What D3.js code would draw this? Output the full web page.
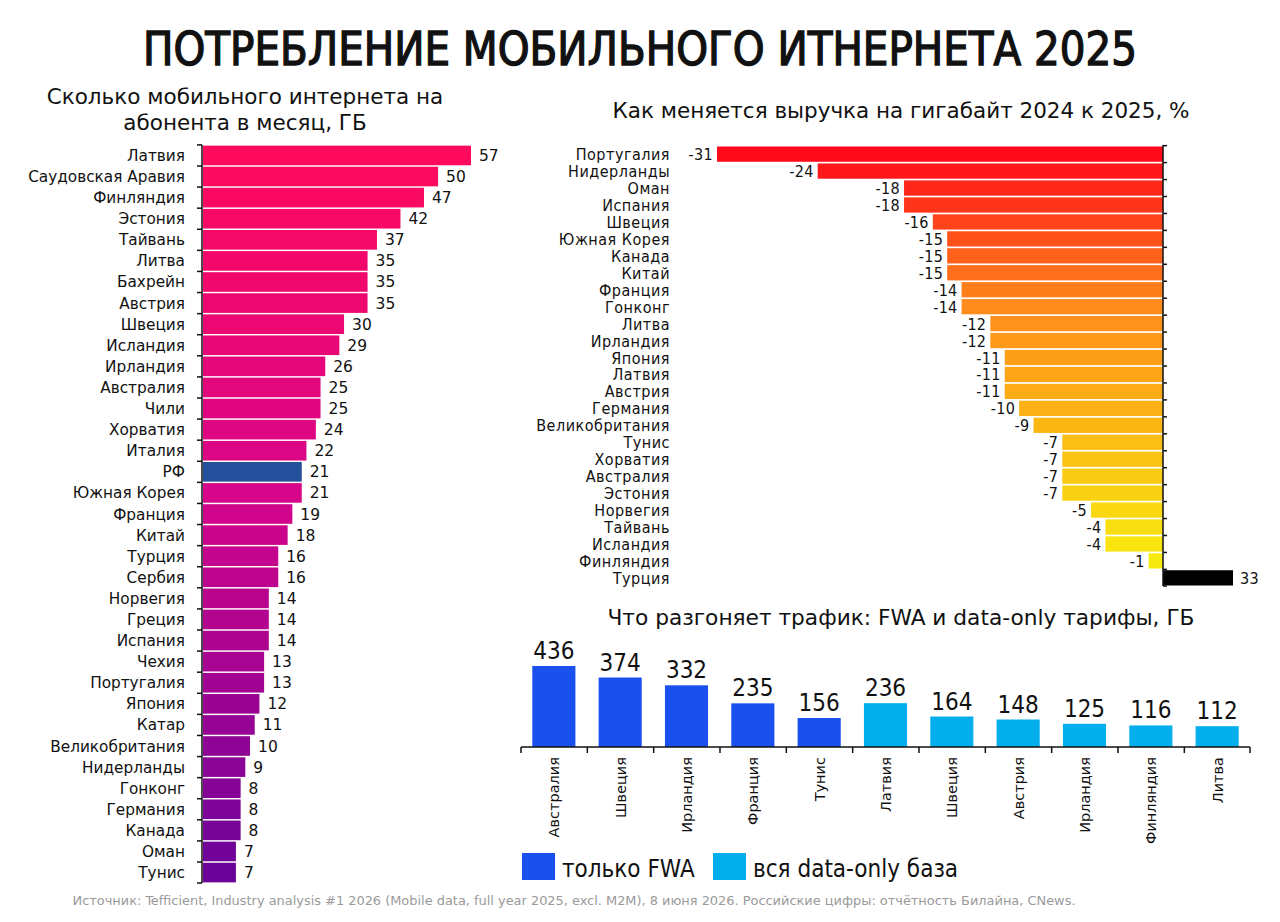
<!DOCTYPE html>
<html>
<head>
<meta charset="utf-8">
<script src="https://cdn.jsdelivr.net/npm/d3@7"></script>
<style>
  body { margin: 0; background: #fff; }
  svg { display: block; }
  .wide { font-family: "DejaVu Sans", Verdana, sans-serif; fill: #111; }
  .cond { font-family: "DejaVu Sans Condensed", "Liberation Sans Narrow", "Roboto", sans-serif; fill: #111; }
</style>
</head>
<body>
<script>
// left chart: GB per subscriber per month
var usageCountries = ['Латвия','Саудовская Аравия','Финляндия','Эстония','Тайвань','Литва','Бахрейн','Австрия','Швеция','Исландия','Ирландия','Австралия','Чили','Хорватия','Италия','РФ','Южная Корея','Франция','Китай','Турция','Сербия','Норвегия','Греция','Испания','Чехия','Португалия','Япония','Катар','Великобритания','Нидерланды','Гонконг','Германия','Канада','Оман','Тунис'];
var usageValues = [57,50,47,42,37,35,35,35,30,29,26,25,25,24,22,21,21,19,18,16,16,14,14,14,13,13,12,11,10,9,8,8,8,7,7];

// right chart: revenue per GB change, %
var revCountries = ['Португалия','Нидерланды','Оман','Испания','Швеция','Южная Корея','Канада','Китай','Франция','Гонконг','Литва','Ирландия','Япония','Латвия','Австрия','Германия','Великобритания','Тунис','Хорватия','Австралия','Эстония','Норвегия','Тайвань','Исландия','Финляндия','Турция'];
var revValues = [-31,-24,-18,-18,-16,-15,-15,-15,-14,-14,-12,-12,-11,-11,-11,-10,-9,-7,-7,-7,-7,-5,-4,-4,-1,33];

// bottom chart: FWA and data-only, GB
var fwaCountries = ['Австралия','Швеция','Ирландия','Франция','Тунис','Латвия','Швеция','Австрия','Ирландия','Финляндия','Литва'];
var fwaValues = [436,374,332,235,156,236,164,148,125,116,112];
var fwaGroups = ['fwa','fwa','fwa','fwa','fwa','data','data','data','data','data','data'];
var legendLabels = ['только FWA','вся data-only база'];

var W = 1280, H = 922;
var svg = d3.select('body').append('svg').attr('width', W).attr('height', H);

svg.append('text')
	.attr('class', 'cond')
	.attr('x', 640).attr('y', 65)
	.attr('text-anchor', 'middle')
	.attr('font-size', 46)
	.attr('stroke', '#111').attr('stroke-width', 1.3)
	.attr('textLength', 994)
	.attr('lengthAdjust', 'spacingAndGlyphs')
	.text('ПОТРЕБЛЕНИЕ МОБИЛЬНОГО ИТНЕРНЕТА 2025');

// ---------- left chart ----------
var lt = svg.append('g');
lt.append('text').attr('class', 'wide').attr('x', 245).attr('y', 104)
	.attr('text-anchor', 'middle').attr('font-size', 21.5)
	.text('Сколько мобильного интернета на');
lt.append('text').attr('class', 'wide').attr('x', 245).attr('y', 130)
	.attr('text-anchor', 'middle').attr('font-size', 21.5)
	.text('абонента в месяц, ГБ');

var x0 = 203;
var yL = d3.scaleBand().domain(usageCountries).range([145, 883]).paddingInner(0.07).paddingOuter(0.03);
var xL = d3.scaleLinear().domain([0, 57]).range([x0, x0 + 268]);
var colL = d3.scaleLinear().domain([0, 16, 34]).range(['#ff0a5c', '#d6058a', '#6c0399']).interpolate(d3.interpolateRgb);

lt.selectAll('rect').data(usageCountries).enter().append('rect')
	.attr('x', x0)
	.attr('y', function(d){ return yL(d); })
	.attr('width', function(d, i){ return xL(usageValues[i]) - x0; })
	.attr('height', yL.bandwidth())
	.attr('fill', function(d, i){ return d == 'РФ' ? '#244f9a' : colL(i); });

lt.selectAll('.val').data(usageCountries).enter().append('text')
	.attr('class', 'wide val')
	.attr('x', function(d, i){ return xL(usageValues[i]) + 8; })
	.attr('y', function(d){ return yL(d) + yL.bandwidth() / 2 + 5.5; })
	.attr('font-size', 15.5)
	.text(function(d, i){ return usageValues[i]; });

lt.selectAll('.lab').data(usageCountries).enter().append('text')
	.attr('class', 'wide lab')
	.attr('x', 185)
	.attr('y', function(d){ return yL(d) + yL.bandwidth() / 2 + 5.5; })
	.attr('text-anchor', 'end')
	.attr('font-size', 15.3)
	.text(function(d){ return d; });

lt.append('line').attr('x1', 202).attr('x2', 202).attr('y1', 145).attr('y2', 883)
	.attr('stroke', '#111').attr('stroke-width', 1.5);
var lTicks = usageCountries.map(function(d){ return yL(d) - yL.step() * yL.paddingInner() / 2; });
lTicks.push(883);
lt.selectAll('.tk').data(lTicks).enter().append('line')
	.attr('x1', 197).attr('x2', 202)
	.attr('y1', function(d){ return d; }).attr('y2', function(d){ return d; })
	.attr('stroke', '#111').attr('stroke-width', 1.5);

// ---------- right chart ----------
var rt = svg.append('g');
rt.append('text').attr('class', 'cond').attr('x', 901).attr('y', 118)
	.attr('text-anchor', 'middle').attr('font-size', 22)
	.attr('textLength', 577).attr('lengthAdjust', 'spacingAndGlyphs')
	.text('Как меняется выручка на гигабайт 2024 к 2025, %');

var yR = d3.scaleBand().domain(revCountries.map(function(d, i){ return i; })).range([146, 586]).paddingInner(0.1).paddingOuter(0.03);
var xR = d3.scaleLinear().domain([-31, 0, 33]).range([717, 1163, 1233]);
var colR = d3.scaleLinear().domain([0, 9, 24]).range(['#ff0a1a', '#ff8c1c', '#f7ea0e']).interpolate(d3.interpolateRgb);

rt.selectAll('rect').data(revValues).enter().append('rect')
	.attr('x', function(d){ return Math.min(xR(d), xR(0)); })
	.attr('y', function(d, i){ return yR(i); })
	.attr('width', function(d){ return Math.abs(xR(d) - xR(0)); })
	.attr('height', yR.bandwidth())
	.attr('fill', function(d, i){ return d > 0 ? '#000' : colR(i); });

rt.selectAll('.val').data(revValues).enter().append('text')
	.attr('class', 'cond val')
	.attr('x', function(d){ return d < 0 ? xR(d) - 4 : xR(d) + 7; })
	.attr('y', function(d, i){ return yR(i) + yR.bandwidth() / 2 + 6; })
	.attr('text-anchor', function(d){ return d < 0 ? 'end' : 'start'; })
	.attr('font-size', 16)
	.attr('letter-spacing', 0.3)
	.text(function(d){ return d; });

rt.selectAll('.lab').data(revCountries).enter().append('text')
	.attr('class', 'cond lab')
	.attr('x', 670)
	.attr('y', function(d, i){ return yR(i) + yR.bandwidth() / 2 + 6; })
	.attr('text-anchor', 'end')
	.attr('font-size', 16)
	.attr('letter-spacing', 0.5)
	.text(function(d){ return d; });

rt.append('line').attr('x1', xR(0)).attr('x2', xR(0)).attr('y1', 145).attr('y2', 586)
	.attr('stroke', '#111').attr('stroke-width', 1.5);
var rTicks = revCountries.map(function(d, i){ return yR(i) - yR.step() * yR.paddingInner() / 2; });
rTicks.push(586);
rt.selectAll('.tk').data(rTicks).enter().append('line')
	.attr('x1', xR(0)).attr('x2', xR(0) + 4)
	.attr('y1', function(d){ return d; }).attr('y2', function(d){ return d; })
	.attr('stroke', '#111').attr('stroke-width', 1.5);

// ---------- bottom chart ----------
var bt = svg.append('g');
bt.append('text').attr('class', 'cond').attr('x', 901).attr('y', 625)
	.attr('text-anchor', 'middle').attr('font-size', 22)
	.attr('textLength', 587).attr('lengthAdjust', 'spacingAndGlyphs')
	.text('Что разгоняет трафик: FWA и data-only тарифы, ГБ');

var groupColor = { fwa: '#1a50ee', data: '#03aeec' };
var xB = d3.scaleBand().domain(fwaCountries.map(function(d, i){ return i; })).range([521, 1250]).paddingInner(0.35).paddingOuter(0.17);
var yB = d3.scaleLinear().domain([0, 436]).range([747, 666]);

bt.selectAll('rect').data(fwaValues).enter().append('rect')
	.attr('x', function(d, i){ return xB(i); })
	.attr('y', function(d){ return yB(d); })
	.attr('width', xB.bandwidth())
	.attr('height', function(d){ return yB(0) - yB(d); })
	.attr('fill', function(d, i){ return groupColor[fwaGroups[i]]; });

bt.selectAll('.val').data(fwaValues).enter().append('text')
	.attr('class', 'cond val')
	.attr('x', function(d, i){ return xB(i) + xB.bandwidth() / 2; })
	.attr('y', function(d){ return yB(d) - 7; })
	.attr('text-anchor', 'middle')
	.attr('font-size', 24)
	.text(function(d){ return d; });

bt.selectAll('.lab').data(fwaCountries).enter().append('text')
	.attr('class', 'wide lab')
	.attr('transform', function(d, i){ return 'translate(' + (xB(i) + xB.bandwidth() / 2 + 5.5) + ',757) rotate(-90)'; })
	.attr('text-anchor', 'end')
	.attr('font-size', 14.5)
	.text(function(d){ return d; });

bt.append('line').attr('x1', 521).attr('x2', 1250).attr('y1', 747).attr('y2', 747)
	.attr('stroke', '#111').attr('stroke-width', 1.5);
var bTicks = fwaCountries.map(function(d, i){ return 521 + i * xB.step(); });
bTicks.push(1250);
bt.selectAll('.tk').data(bTicks).enter().append('line')
	.attr('x1', function(d){ return d; }).attr('x2', function(d){ return d; })
	.attr('y1', 747).attr('y2', 753)
	.attr('stroke', '#111').attr('stroke-width', 1.5);

// legend
var lg = bt.append('g');
var lgX = [522, 713];
lg.selectAll('rect').data(legendLabels).enter().append('rect')
	.attr('x', function(d, i){ return lgX[i]; })
	.attr('y', 853).attr('width', 33).attr('height', 27)
	.attr('fill', function(d, i){ return i == 0 ? groupColor.fwa : groupColor.data; });
lg.selectAll('text').data(legendLabels).enter().append('text')
	.attr('class', 'cond')
	.attr('x', function(d, i){ return lgX[i] + 40; })
	.attr('y', 877)
	.attr('font-size', 24)
	.text(function(d){ return d; });

svg.append('text').attr('class', 'cond')
	.attr('x', 574).attr('y', 905)
	.attr('text-anchor', 'middle')
	.attr('font-size', 13)
	.attr('textLength', 1003).attr('lengthAdjust', 'spacingAndGlyphs')
	.style('fill', '#9a9a9a')
	.text('Источник: Tefficient, Industry analysis #1 2026 (Mobile data, full year 2025, excl. M2M), 8 июня 2026. Российские цифры: отчётность Билайна, CNews.');
</script>
</body>
</html>
